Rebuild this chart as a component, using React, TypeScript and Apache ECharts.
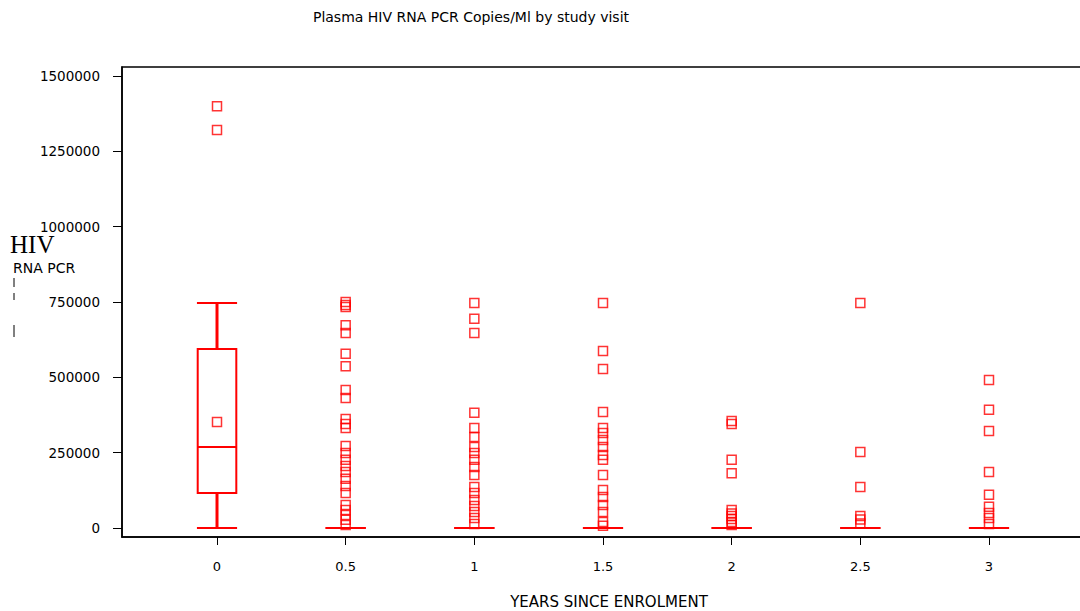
import React, { useEffect, useRef } from "react";
import * as echarts from "echarts";

// Study visits (years since enrolment)
const visits = [0, 0.5, 1, 1.5, 2, 2.5, 3];
const xTickValues = [0, 0.5, 1, 1.5, 2, 2.5, 3];
const yTickValues = [0, 250000, 500000, 750000, 1000000, 1250000, 1500000];

// Box statistics per visit
const boxMin = [0, 0, 0, 0, 0, 0, 0];
const boxQ1 = [116000, 0, 0, 0, 0, 0, 0];
const boxMedian = [269000, 0, 0, 0, 0, 0, 0];
const boxQ3 = [594000, 0, 0, 0, 0, 0, 0];
const boxMax = [747000, 0, 0, 0, 0, 0, 0];

// Mean marker
const meanX = [0];
const meanY = [352000];

// Outliers per visit
const out0 = [1400000, 1321000];
const out05 = [750000, 740000, 733000, 673000, 647000, 578000, 537000, 458000, 431000, 362000, 345000, 332000, 272000, 249000, 226000, 206000, 186000, 163000, 139000, 116000, 76000, 60000, 43000, 27000, 10000];
const out1 = [747000, 694000, 647000, 382000, 332000, 302000, 269000, 249000, 226000, 202000, 176000, 136000, 116000, 93000, 73000, 53000, 33000, 13000];
const out15 = [747000, 587000, 528000, 385000, 332000, 315000, 292000, 269000, 242000, 226000, 176000, 126000, 103000, 76000, 53000, 20000, 7000];
const out2 = [355000, 345000, 226000, 182000, 60000, 48000, 40000, 30000, 20000, 10000];
const out25 = [747000, 252000, 136000, 40000, 28000, 15000];
const out3 = [491000, 392000, 322000, 186000, 110000, 70000, 50000, 33000, 13000];

const outlierGroups = [out0, out05, out1, out15, out2, out25, out3];

const RED = "#ff0000";

export default function App() {
  const ref = useRef<HTMLDivElement>(null);

  useEffect(() => {
    if (!ref.current) return;
    const chart = echarts.init(ref.current, null, { renderer: "svg" });

    const boxData = visits.map((v, i) => [v, boxMin[i], boxQ1[i], boxMedian[i], boxQ3[i], boxMax[i]]);
    const outlierData: number[][] = [];
    outlierGroups.forEach((g, i) => g.forEach((y) => outlierData.push([visits[i], y])));
    const meanData = meanX.map((x, i) => [x, meanY[i]]);

    const option: any = {
      animation: false,
      backgroundColor: "#ffffff",
      grid: {
        left: 122,
        top: 67,
        right: 10,
        bottom: 74,
        show: true,
        borderColor: "#000",
        borderWidth: 1.5,
      },
      xAxis: {
        type: "value",
        min: -0.3692,
        max: 3.3925,
        splitLine: { show: false },
        axisLine: { show: true, onZero: false, lineStyle: { color: "#000", width: 1.5 } },
        axisTick: { show: true, customValues: xTickValues, length: 8, lineStyle: { color: "#000", width: 1 } },
        axisLabel: {
          customValues: xTickValues,
          margin: 23,
          color: "#000",
          fontFamily: "DejaVu Sans",
          fontSize: 13,
          formatter: (v: number) => String(v),
        },
      },
      yAxis: {
        type: "value",
        min: -30000,
        max: 1530000,
        splitLine: { show: false },
        axisLine: { show: true, onZero: false, lineStyle: { color: "#000", width: 1.5 } },
        axisTick: { show: true, customValues: yTickValues, length: 9, lineStyle: { color: "#000", width: 1 } },
        axisLabel: {
          customValues: yTickValues,
          margin: 22,
          color: "#000",
          fontFamily: "DejaVu Sans",
          fontSize: 13.5,
          formatter: (v: number) => String(v),
        },
      },
      graphic: [
        {
          type: "text",
          x: 471,
          y: 17,
          style: {
            text: "Plasma HIV RNA PCR Copies/Ml by study visit",
            fill: "#000",
            font: "14px 'DejaVu Sans'",
            align: "center",
            verticalAlign: "middle",
          },
        },
        {
          type: "text",
          x: 609,
          y: 602,
          style: {
            text: "YEARS SINCE ENROLMENT",
            fill: "#000",
            font: "15px 'DejaVu Sans'",
            align: "center",
            verticalAlign: "middle",
          },
        },
        {
          type: "text",
          x: 10,
          y: 244,
          style: {
            text: "HIV",
            fill: "#000",
            font: "25px 'Liberation Serif'",
            align: "left",
            verticalAlign: "middle",
          },
        },
        {
          type: "text",
          x: 13,
          y: 268,
          style: {
            text: "RNA PCR",
            fill: "#000",
            font: "14px 'DejaVu Sans'",
            align: "left",
            verticalAlign: "middle",
          },
        },
        { type: "line", shape: { x1: 14, y1: 278, x2: 14, y2: 287 }, style: { stroke: "#000", lineWidth: 1 } },
        { type: "line", shape: { x1: 14, y1: 293, x2: 14, y2: 300 }, style: { stroke: "#000", lineWidth: 1 } },
        { type: "line", shape: { x1: 14, y1: 325, x2: 14, y2: 337 }, style: { stroke: "#000", lineWidth: 1 } },
      ],
      series: [
        {
          type: "custom",
          name: "box",
          data: boxData,
          encode: { x: 0, y: [1, 2, 3, 4, 5] },
          renderItem: (params: any, api: any) => {
            const x = api.value(0);
            const pMin = api.coord([x, api.value(1)]);
            const pQ1 = api.coord([x, api.value(2)]);
            const pMed = api.coord([x, api.value(3)]);
            const pQ3 = api.coord([x, api.value(4)]);
            const pMax = api.coord([x, api.value(5)]);
            const half = api.size([0.075, 0])[0];
            const capHalf = api.size([0.078, 0])[0];
            const cx = pMin[0];
            const children: any[] = [];
            const whisker = { stroke: RED, lineWidth: 3 };
            const thin = { stroke: RED, lineWidth: 2 };
            if (pQ1[1] !== pMin[1]) {
              children.push({ type: "line", shape: { x1: cx, y1: pMin[1], x2: cx, y2: pQ1[1] }, style: whisker });
            }
            if (pQ3[1] !== pMax[1]) {
              children.push({ type: "line", shape: { x1: cx, y1: pQ3[1], x2: cx, y2: pMax[1] }, style: whisker });
            }
            children.push({ type: "line", shape: { x1: cx - capHalf, y1: pMin[1], x2: cx + capHalf, y2: pMin[1] }, style: thin });
            children.push({ type: "line", shape: { x1: cx - capHalf, y1: pMax[1], x2: cx + capHalf, y2: pMax[1] }, style: thin });
            if (pQ3[1] !== pQ1[1]) {
              children.push({
                type: "rect",
                shape: { x: cx - half, y: pQ3[1], width: half * 2, height: pQ1[1] - pQ3[1] },
                style: { fill: "none", stroke: RED, lineWidth: 2 },
              });
              children.push({ type: "line", shape: { x1: cx - half, y1: pMed[1], x2: cx + half, y2: pMed[1] }, style: thin });
            }
            return { type: "group", children };
          },
          z: 2,
        },
        {
          type: "scatter",
          name: "outliers",
          data: outlierData,
          symbol: "rect",
          symbolSize: 9,
          itemStyle: { color: "rgba(0,0,0,0)", borderColor: RED, borderWidth: 1.5 },
          z: 3,
        },
        {
          type: "scatter",
          name: "mean",
          data: meanData,
          symbol: "rect",
          symbolSize: 9,
          itemStyle: { color: "rgba(0,0,0,0)", borderColor: RED, borderWidth: 1.5 },
          z: 3,
        },
      ],
    };

    chart.setOption(option);
    return () => chart.dispose();
  }, []);

  return (
    <div style={{ position: "absolute", left: 0, top: 0, width: 1080, height: 611, overflow: "hidden", background: "#fff" }}>
      <div ref={ref} style={{ width: 1100, height: 611 }} />
    </div>
  );
}
